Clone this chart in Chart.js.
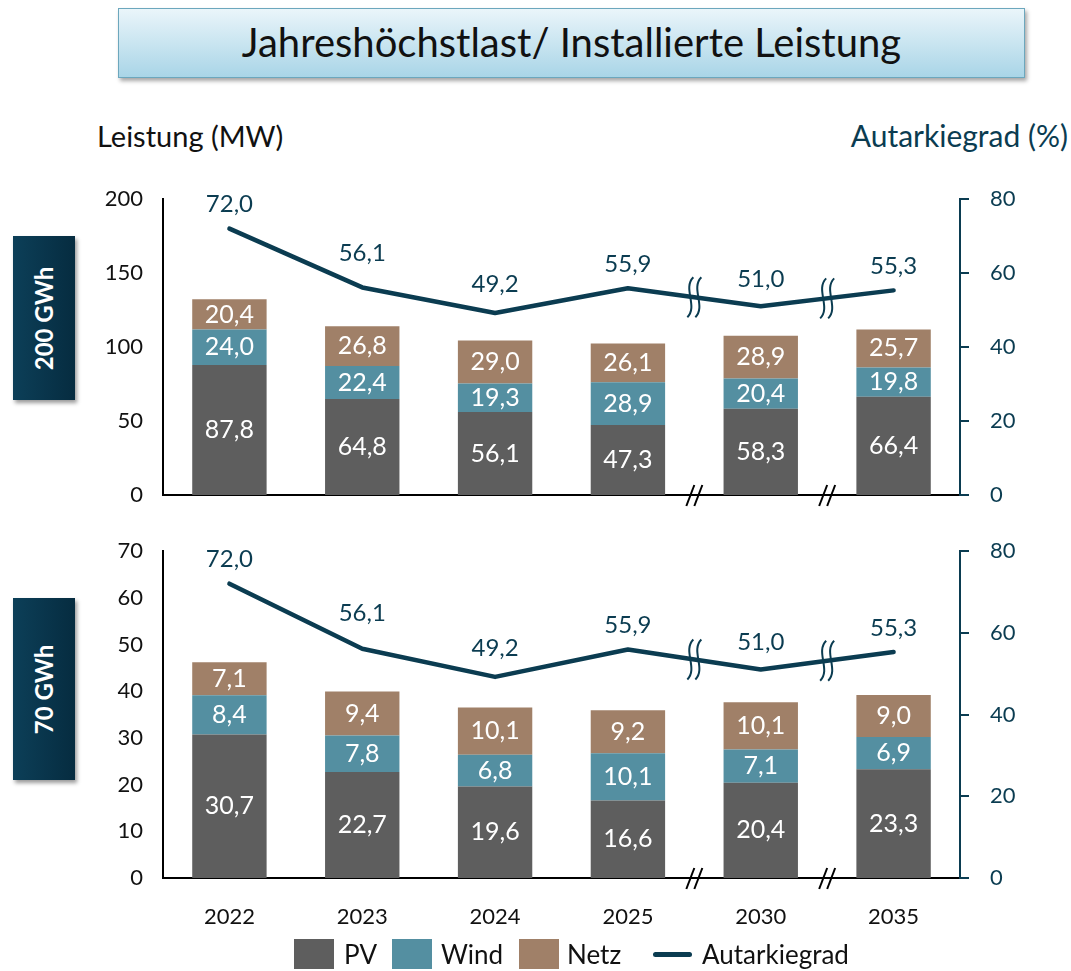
<!DOCTYPE html>
<html>
<head>
<meta charset="utf-8">
<script src="https://cdn.jsdelivr.net/npm/chart.js@4.4.1/dist/chart.umd.min.js"></script>
<style>
  body { margin: 0; width: 1071px; height: 971px; background: #fff; position: relative; overflow: hidden;
         font-family: Lato, "Open Sans", sans-serif; color: #111; }
  #title { position: absolute; left: 118px; top: 8px; width: 907px; height: 70px; box-sizing: border-box;
           border: 1.5px solid #6ca7bd; background: linear-gradient(#eaf5fa, #a9d5e7);
           box-shadow: 2px 3px 4px rgba(0,0,0,0.35); text-align: center; line-height: 66px; font-size: 40px; }
  .axtitle { position: absolute; top: 118px; font-size: 29px; }
  #lt { left: 97px; }
  #rt { right: 3px; color: #0b3c51; font-size: 30px; top: 117px; }
  .tag { position: absolute; left: 13px; width: 62px; background: linear-gradient(90deg, #0c3f58, #062c40);
         box-shadow: 2px 3px 4px rgba(0,0,0,0.4); display: flex; align-items: center; justify-content: center; }
  .tag span { transform: rotate(-90deg); white-space: nowrap; color: #fff; font-weight: bold; font-size: 24px; }
  canvas { position: absolute; left: 0; }
  #c1 { top: 180px; }
  #c2 { top: 530px; }
  .lg { position: absolute; top: 938px; font-size: 26px; line-height: 32px; }
  .sw { position: absolute; top: 939px; width: 40px; height: 30px; }
</style>
</head>
<body>
<div id="title">Jahreshöchstlast/ Installierte Leistung</div>
<div class="axtitle" id="lt">Leistung (MW)</div>
<div class="axtitle" id="rt">Autarkiegrad (%)</div>
<div class="tag" style="top:236px;height:164px"><span>200 GWh</span></div>
<div class="tag" style="top:598px;height:182px"><span>70 GWh</span></div>
<canvas id="c1" width="1071" height="340"></canvas>
<canvas id="c2" width="1071" height="410"></canvas>

<div class="sw" style="left:294px;background:#5e5e5e"></div><div class="lg" style="left:344px">PV</div>
<div class="sw" style="left:392px;background:#548fa1"></div><div class="lg" style="left:441px">Wind</div>
<div class="sw" style="left:519px;background:#a08068"></div><div class="lg" style="left:567px">Netz</div>
<div style="position:absolute;left:653px;top:952px;width:39px;height:5px;border-radius:3px;background:#0b3c51"></div>
<div class="lg" style="left:702px">Autarkiegrad</div>

<script>
const years = ["2022", "2023", "2024", "2025", "2030", "2035"];
const pv200 = [87.8, 64.8, 56.1, 47.3, 58.3, 66.4];
const wind200 = [24.0, 22.4, 19.3, 28.9, 20.4, 19.8];
const netz200 = [20.4, 26.8, 29.0, 26.1, 28.9, 25.7];
const pv70 = [30.7, 22.7, 19.6, 16.6, 20.4, 23.3];
const wind70 = [8.4, 7.8, 6.8, 10.1, 7.1, 6.9];
const netz70 = [7.1, 9.4, 10.1, 9.2, 10.1, 9.0];
const autarkie = [72.0, 56.1, 49.2, 55.9, 51.0, 55.3];

const colors = { pv: "#5e5e5e", wind: "#548fa1", netz: "#a08068", line: "#0b3c51" };
const family = "Lato, 'Open Sans', sans-serif";

function fmt(v) { return v.toFixed(1).replace(".", ","); }

// keep tick labels from pushing the plot area around
function noPad(s) { s.paddingTop = 0; s.paddingBottom = 0; s.paddingLeft = 0; s.paddingRight = 0; }

// y of the polyline at pixel x
function lineYAt(pts, x) {
  for (let k = 0; k < pts.length - 1; k++) {
    const a = pts[k], b = pts[k + 1];
    if (x >= a.x && x <= b.x) return a.y + (b.y - a.y) * (x - a.x) / (b.x - a.x);
  }
  return Infinity;
}

// value labels inside the bars and above the line
const labelPlugin = {
  id: "valueLabels",
  afterDatasetsDraw(chart) {
    const ctx = chart.ctx;
    ctx.save();
    ctx.textAlign = "center";
    ctx.textBaseline = "middle";
    chart.data.datasets.forEach((ds, i) => {
      const pts = chart.getDatasetMeta(i).data;
      pts.forEach((el, j) => {
        const v = ds.data[j];
        if (ds.type === "line") {
          ctx.fillStyle = colors.line;
          ctx.font = "24px " + family;
          const half = ctx.measureText(fmt(v)).width / 2;
          const edge = Math.min(lineYAt(pts, el.x - half), lineYAt(pts, el.x + half));
          ctx.fillText(fmt(v), el.x, Math.min(el.y, edge) - 24);
        } else {
          ctx.fillStyle = "#fff";
          ctx.font = "25px " + family;
          ctx.fillText(fmt(v), el.x, (el.y + el.base) / 2);
        }
      });
    });
    ctx.restore();
  }
};

// break marks between 2025/2030 and 2030/2035
const breakPlugin = {
  id: "breaks",
  afterDraw(chart) {
    const ctx = chart.ctx, x = chart.scales.x, area = chart.chartArea;
    const pts = chart.getDatasetMeta(3).data;
    [[3, 4], [4, 5]].forEach(([a, b]) => {
      const bx = (x.getPixelForValue(a) + x.getPixelForValue(b)) / 2;
      ctx.save();
      ctx.lineWidth = 2;
      ctx.strokeStyle = "#000";
      [-4, 4].forEach(d => {
        ctx.beginPath();
        ctx.moveTo(bx + d + 4, area.bottom - 10);
        ctx.lineTo(bx + d - 4, area.bottom + 11);
        ctx.stroke();
      });
      const ly = lineYAt(pts, bx);
      ctx.strokeStyle = colors.line;
      [-4, 4].forEach(d => {
        ctx.beginPath();
        ctx.moveTo(bx + d + 3, ly - 20);
        ctx.bezierCurveTo(bx + d - 8, ly - 9, bx + d + 8, ly + 9, bx + d - 3, ly + 20);
        ctx.stroke();
      });
      ctx.restore();
    });
  }
};

function makeChart(id, pv, wind, netz, yMax, yStep, showX, padTop, xHeight) {
  return new Chart(document.getElementById(id), {
    type: "bar",
    data: {
      labels: years,
      datasets: [
        { label: "PV", data: pv, backgroundColor: colors.pv, stack: "s", order: 1 },
        { label: "Wind", data: wind, backgroundColor: colors.wind, stack: "s", order: 1 },
        { label: "Netz", data: netz, backgroundColor: colors.netz, stack: "s", order: 1 },
        { type: "line", label: "Autarkiegrad", data: autarkie, yAxisID: "y1", borderColor: colors.line,
          borderWidth: 4.5, pointRadius: 0, tension: 0, order: 0, borderCapStyle: "round", borderJoinStyle: "round" }
      ]
    },
    options: {
      responsive: false,
      animation: false,
      devicePixelRatio: 1,
      layout: { padding: { top: padTop, bottom: 0, left: 0, right: 0 } },
      plugins: { legend: { display: false }, tooltip: { enabled: false } },
      datasets: { bar: { categoryPercentage: 1, barPercentage: 0.56 } },
      scales: {
        x: {
          stacked: true,
          grid: { display: false },
          border: { color: "#000", width: 2 },
          ticks: { display: showX, color: "#111", font: { family, size: 22 }, padding: 18 },
          afterFit(s) { s.height = xHeight; noPad(s); }
        },
        y: {
          stacked: true, min: 0, max: yMax,
          ticks: { stepSize: yStep, color: "#111", font: { family, size: 22 }, padding: 20 },
          grid: { display: false, drawTicks: false },
          border: { color: "#000", width: 2 },
          afterFit(s) { s.width = 163; noPad(s); }
        },
        y1: {
          position: "right", min: 0, max: 80,
          ticks: { stepSize: 20, color: colors.line, font: { family, size: 22 }, padding: 21 },
          grid: { drawOnChartArea: false, color: colors.line, lineWidth: 2, tickLength: 9 },
          border: { color: colors.line, width: 2 },
          afterFit(s) { s.width = 111; noPad(s); }
        }
      }
    },
    plugins: [labelPlugin, breakPlugin]
  });
}

makeChart("c1", pv200, wind200, netz200, 200, 50, false, 19, 25);
makeChart("c2", pv70, wind70, netz70, 70, 10, true, 21, 62);
</script>
</body>
</html>
